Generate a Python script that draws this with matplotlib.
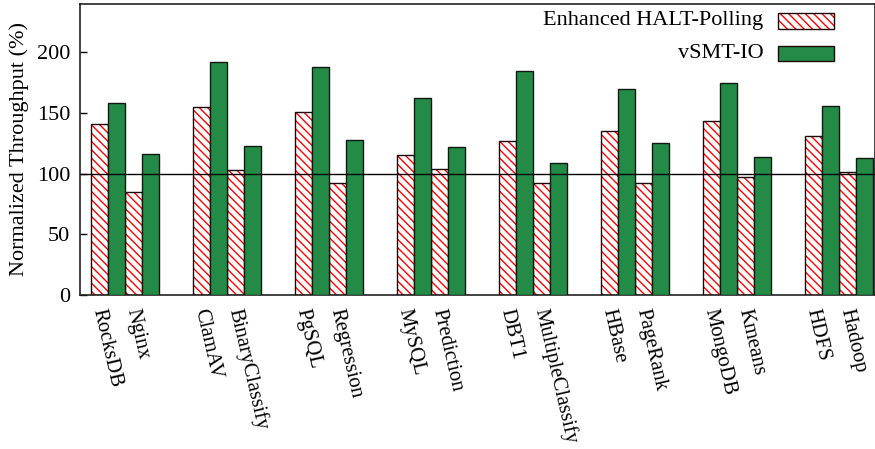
import matplotlib
matplotlib.use("Agg")
import matplotlib.pyplot as plt
from matplotlib.patches import Rectangle
from matplotlib.transforms import ScaledTranslation
import numpy as np

plt.rcParams['font.family'] = ['Liberation Serif', 'DejaVu Serif']
plt.rcParams['hatch.linewidth'] = 1.0

# Workloads, listed pairwise (two per cluster)
categories = ["RocksDB", "Nginx", "ClamAV", "BinaryClassify", "PgSQL", "Regression",
              "MySQL", "Prediction", "DBT1", "MultipleClassify", "HBase", "PageRank",
              "MongoDB", "Kmeans", "HDFS", "Hadoop"]
halt_polling = [141, 85, 155, 103, 151, 92, 115, 104, 127, 92, 135, 92, 143, 97, 131, 101]
vsmt_io = [158, 116, 192, 123, 188, 128, 162, 122, 185, 109, 170, 125, 175, 114, 156, 113]
yticks = [0, 50, 100, 150, 200]
series_names = ["Enhanced HALT-Polling", "vSMT-IO"]

GREEN = "#238b45"
HATCH = "\\\\\\\\"
FS = 16
FS_X = 14.9

W, H, DPI = 875, 449, 100
fig = plt.figure(figsize=(W / DPI, H / DPI), dpi=DPI)

# axes box in pixels: left 80, right 875, top 3.8, bottom 295
left, right, top, bottom = 80, 875, 3.8, 295
ax = fig.add_axes([left / W, 1 - bottom / H, (right - left) / W, (bottom - top) / H])

# bar geometry: unit-width bars, clusters of 4 bars separated by a 2-bar gap
n = len(categories)
idx = np.arange(n)
group = idx // 2
pos = 6 * group + 2 * (idx % 2)
x_red = pos + 0.5
x_green = pos + 1.5
centers = pos + 1.0

ax.bar(x_red, halt_polling, width=1.0, color="white", edgecolor="red",
       hatch=HATCH, linewidth=0, zorder=2)
ax.bar(x_red, halt_polling, width=1.0, fill=False, edgecolor="#1a0a0a",
       linewidth=1.0, zorder=3)
ax.bar(x_green, vsmt_io, width=1.0, color=GREEN, edgecolor="#0d1a10",
       linewidth=1.0, zorder=3)

ax.axhline(100, color="black", linewidth=1.0, zorder=5)

ax.set_xlim(-10.7 / 17, (875 - 90.7) / 17)
ax.set_ylim(0, 240)
ax.set_yticks(yticks)
ax.tick_params(axis="y", direction="in", length=5, width=1, labelsize=FS, pad=7)
ax.tick_params(axis="x", length=0, pad=11)

ax.set_xticks(centers)
ax.set_xticklabels(categories, fontsize=FS_X)
offset = ScaledTranslation(-14.5 / DPI, 0, fig.dpi_scale_trans)
for lbl in ax.get_xticklabels():
    lbl.set_rotation(-77)
    lbl.set_rotation_mode("anchor")
    lbl.set_ha("left")
    lbl.set_va("baseline")
    lbl.set_transform(lbl.get_transform() + offset)

ax.set_ylabel("Normalized Throughput (%)", fontsize=FS, labelpad=6)

for s in ax.spines.values():
    s.set_linewidth(1.2)
    s.set_color("#222222")

# key in the upper right: right-aligned text followed by a sample box
def px(x, y):
    return x / W, 1 - y / H

key_rows = [(21, dict(facecolor="white", edgecolor="red", hatch=HATCH, linewidth=0)),
            (53.5, dict(facecolor=GREEN, edgecolor="none", linewidth=0))]
for name, (cy, style) in zip(series_names, key_rows):
    x0, y0 = px(778.3, cy + 7.75)
    w, h = 56 / W, 15.5 / H
    fig.patches.append(Rectangle((x0, y0), w, h, transform=fig.transFigure, **style))
    fig.patches.append(Rectangle((x0, y0), w, h, transform=fig.transFigure,
                                 fill=False, edgecolor="#1a0a0a", linewidth=1.0))
    tx, ty = px(763.5, cy)
    fig.text(tx, ty, name, ha="right", va="center", fontsize=FS)

fig.savefig("out.png", dpi=DPI)
